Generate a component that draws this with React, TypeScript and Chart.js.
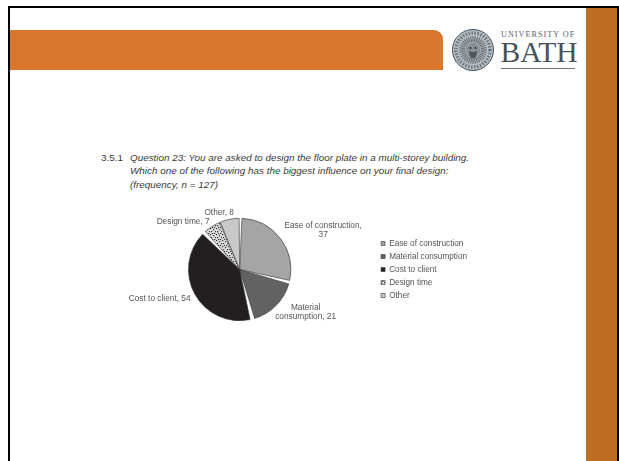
import React, { useEffect, useRef } from "react";
import { Chart, registerables } from "chart.js";

Chart.register(...registerables);

const categories = ["Ease of construction", "Material consumption", "Cost to client", "Design time", "Other"];
const frequencies = [37, 21, 54, 7, 8];
const sliceColors = ["#a5a5a5", "#626262", "#231f20", "speckle", "#c9c9c9"];
const headingLines = [
  "Question 23: You are asked to design the floor plate in a multi-storey building.",
  "Which one of the following has the biggest influence on your final design:",
];

// Label wrapping and placement relative to the pie centre, per slice.
const labelWraps = [["Ease of construction,", "37"], ["Material", "consumption, 21"], null, null, null];
const labelAnchors = [[83.5, -43.5], [66, 38.5], [-80, 29.5], [-56.5, -47.5], [-20.5, -57]];

function speckle(): CanvasPattern | string {
  const tile = document.createElement("canvas");
  tile.width = 6;
  tile.height = 6;
  const ctx = tile.getContext("2d");
  if (!ctx) return "#888";
  ctx.fillStyle = "#dcdcdc";
  ctx.fillRect(0, 0, 6, 6);
  ctx.fillStyle = "#333";
  [[0, 0], [3, 1], [5, 3], [1, 3], [4, 5], [2, 5]].forEach(([x, y]) => ctx.fillRect(x, y, 1.2, 1.2));
  return ctx.createPattern(tile, "repeat") ?? "#888";
}

const sliceLabels = {
  id: "sliceLabels",
  afterDraw(chart: Chart) {
    const { ctx } = chart;
    const first = chart.getDatasetMeta(0).data[0] as any;
    ctx.save();
    ctx.font = "8.3px 'Liberation Sans'";
    ctx.fillStyle = "#555";
    ctx.textAlign = "center";
    ctx.textBaseline = "middle";
    categories.forEach((name, i) => {
      const lines = labelWraps[i] ?? [`${name}, ${frequencies[i]}`];
      const [dx, dy] = labelAnchors[i];
      lines.forEach((line, j) => ctx.fillText(line, first.x + dx, first.y + dy + j * 9));
    });
    ctx.restore();
  },
};

function Crest() {
  const rays = Array.from({ length: 36 }, (_, i) => i * 10);
  return (
    <svg width="44" height="44" viewBox="-22 -22 44 44" style={{ position: "absolute", left: 451, top: 28 }}>
      <circle r="20.5" fill="#b9bfc3" stroke="#46525c" strokeWidth="1" />
      <circle r="17" fill="none" stroke="#6a747c" strokeWidth="3.5" strokeDasharray="1.5 1.5" />
      {rays.map((a) => (
        <line key={a} x1="0" y1="-8" x2="0" y2="-14" stroke="#6a747c" strokeWidth="1.2" transform={`rotate(${a})`} />
      ))}
      <circle r="7.5" fill="#8a9298" />
      <circle cx="-2.5" cy="-2" r="1" fill="#20272d" />
      <circle cx="2.5" cy="-2" r="1" fill="#20272d" />
      <path d="M-4 1 Q0 3 4 1 L3 7 Q0 9 -3 7 Z" fill="#4a545b" />
    </svg>
  );
}

export default function App() {
  const canvasRef = useRef<HTMLCanvasElement>(null);

  useEffect(() => {
    const canvas = canvasRef.current;
    if (!canvas) return;
    const chart = new Chart(canvas, {
      type: "pie",
      data: {
        labels: categories,
        datasets: [
          {
            data: frequencies,
            backgroundColor: sliceColors.map((c) => (c === "speckle" ? speckle() : c)),
            borderColor: "#333",
            borderWidth: 0.6,
            spacing: 2.6,
            hoverOffset: 0,
          },
        ],
      },
      options: {
        responsive: false,
        animation: false,
        layout: { padding: { left: 103, right: 142, top: 218, bottom: 140 } },
        plugins: {
          title: { display: false },
          tooltip: { enabled: false },
          legend: {
            position: "right",
            align: "center",
            labels: {
              boxWidth: 4,
              boxHeight: 4,
              padding: 4.8,
              color: "#555",
              font: { family: "'Liberation Sans'", size: 8.2 },
            },
          },
        },
      },
      plugins: [sliceLabels],
    });
    return () => chart.destroy();
  }, []);

  const text: React.CSSProperties = {
    position: "absolute",
    font: "9.9px/13.5px 'Liberation Sans'",
    color: "#3a3a3a",
    whiteSpace: "nowrap",
  };

  return (
    <div style={{ position: "fixed", left: 0, top: 0, width: 619, height: 461, background: "#fff", overflow: "hidden" }}>
      <div style={{ position: "absolute", left: 8, top: 6, width: 611, height: 2, background: "#000" }} />
      <div style={{ position: "absolute", left: 8, top: 6, width: 2, height: 455, background: "#000" }} />
      <div style={{ position: "absolute", left: 617, top: 6, width: 2, height: 455, background: "#000" }} />
      <div style={{ position: "absolute", left: 586, top: 8, width: 31, height: 453, background: "#bd6e21" }} />
      <div style={{ position: "absolute", left: 10, top: 30, width: 433, height: 40, background: "#d9762c", borderTopRightRadius: 9 }} />

      <Crest />
      <div style={{ ...text, left: 501, top: 29, font: "8.2px/12px 'Liberation Serif'", letterSpacing: 1, color: "#56616b" }}>UNIVERSITY OF</div>
      <div style={{ ...text, left: 500.5, top: 37, font: "29.5px/30px 'Liberation Serif'", color: "#46525c" }}>BATH</div>
      <div style={{ position: "absolute", left: 501, top: 67.5, width: 74, height: 1.5, background: "#6d7780" }} />

      <div style={{ ...text, left: 101, top: 150.5 }}>3.5.1</div>
      <div style={{ ...text, left: 130, top: 150.5, fontStyle: "italic" }}>
        {headingLines.map((line) => (
          <div key={line}>{line}</div>
        ))}
        <div>
          (frequency, <i>n</i> = {frequencies.reduce((a, b) => a + b, 0)})
        </div>
      </div>

      <canvas ref={canvasRef} width={619} height={461} style={{ position: "absolute", left: 0, top: 0 }} />
    </div>
  );
}
